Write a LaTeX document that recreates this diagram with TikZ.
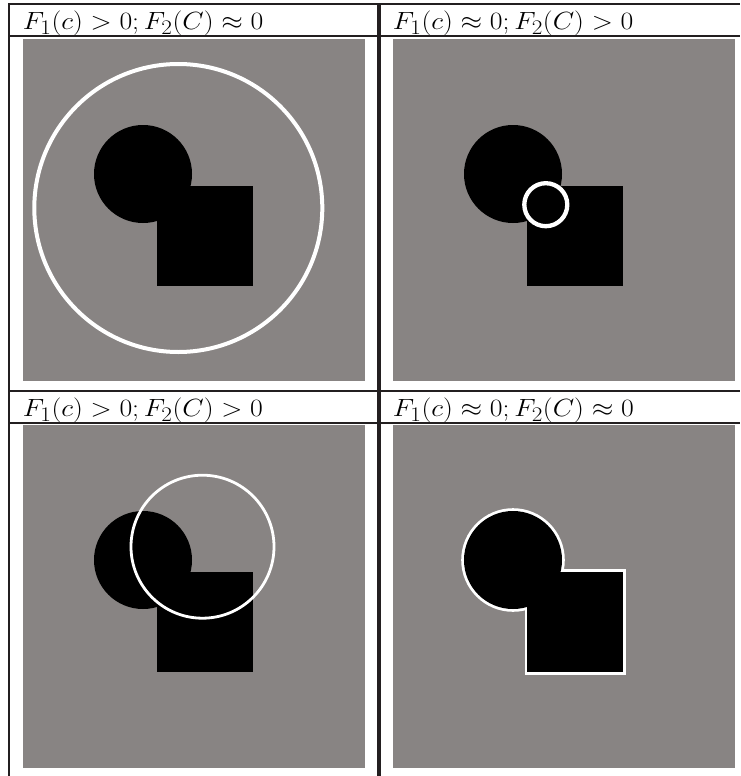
\documentclass[tikz,border=0pt]{standalone}
\definecolor{panelgray}{RGB}{136,132,131}
\definecolor{rulecol}{RGB}{35,31,32}
\newcommand{\hdrtext}[1]{\scalebox{1.115}[1]{#1}}
\tikzset{
  rulel/.style={draw=rulecol, line width=2.2pt},
  panel/.style={fill=panelgray},
  blackshape/.style={fill=black},
  contour/.style={draw=white},
  lbl/.style={anchor=base west, inner sep=0pt, font=\fontsize{28}{30}\selectfont}
}
\begin{document}
\begin{tikzpicture}[x=1pt,y=-1pt]
\useasboundingbox (0,0) rectangle (740,776);
% panels
\fill[panel] (23,39.5) rectangle (365,381);
\fill[panel] (393,39.5) rectangle (735,381);
\fill[panel] (23,425.3) rectangle (365,767.7);
\fill[panel] (393,425.3) rectangle (735,767.7);
% top-left
\fill[blackshape] (143,174) circle[radius=49];
\fill[blackshape] (157.3,185.5) rectangle (253.3,286);
\draw[contour, line width=4pt] (178.3,208) circle[radius=144];
% top-right
\fill[blackshape] (513,174) circle[radius=49];
\fill[blackshape] (527.3,185.5) rectangle (623.3,286);
\draw[contour, line width=4.3pt] (545.8,204.7) circle[radius=21.5];
% bottom-left
\fill[blackshape] (143,560) circle[radius=49];
\fill[blackshape] (157.3,572) rectangle (253.3,672);
\draw[contour, line width=2.8pt] (202.5,546.7) circle[radius=71.5];
% bottom-right: contour of union
\filldraw[white, line width=5.6pt] (513,560) circle[radius=49];
\filldraw[white, line width=5.6pt, line join=miter] (527.3,572) rectangle (623.3,672);
\fill[blackshape] (513,560) circle[radius=49];
\fill[blackshape] (527.3,572) rectangle (623.3,672);
% rules
\draw[rulel, line width=1.8pt] (8,4.2) -- (740,4.2);
\draw[rulel] (8,36.3) -- (740,36.3);
\draw[rulel] (8,391.2) -- (740,391.2);
\draw[rulel, line width=1.6pt] (8,422.8) -- (740,422.8);
\draw[rulel] (9.2,3.3) -- (9.2,776);
\draw[rulel, line width=3.4pt] (379,3.3) -- (379,776);
% labels
\node[lbl] (l1) at (22.7,29.3) {\hdrtext{$F_1(c) > 0; F_2(C) \approx 0$}};
\node[lbl] (l2) at (392.7,29.3) {\hdrtext{$F_1(c) \approx 0; F_2(C) > 0$}};
\node[lbl] (l3) at (22.7,416.3) {\hdrtext{$F_1(c) > 0; F_2(C) > 0$}};
\node[lbl] (l4) at (392.7,416.3) {\hdrtext{$F_1(c) \approx 0; F_2(C) \approx 0$}};
\end{tikzpicture}
\end{document}
